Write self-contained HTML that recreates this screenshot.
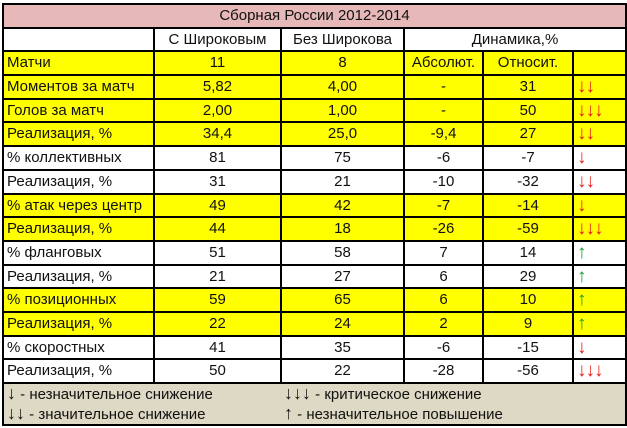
<!DOCTYPE html>
<html><head><meta charset="utf-8"><style>
body{margin:0;background:#fff;width:627px;height:428px;overflow:hidden;font-family:"Liberation Sans",sans-serif;}
table{position:absolute;left:2px;top:3px;border-collapse:collapse;table-layout:fixed;width:623px;font-size:15px;color:#111;}
td{border:2px solid #000;padding:0 3px;text-align:center;white-space:nowrap;overflow:hidden;line-height:18px;}
tr{height:24px;}
tr.s{height:23px;}
td.l{text-align:left;}
tr.y td{background:#ffff00;}
.t td{background:#e6b9b8;}
.r{color:#e8201a;text-align:left;font-size:19px;font-weight:bold;letter-spacing:-1px;}
.g{color:#10a030;text-align:left;font-size:19px;font-weight:bold;}
.leg{height:21px;}
.leg td{background:#ddd9c4;text-align:left;border:none;}
.a{font-size:18px;}
</style></head><body>
<table>
<colgroup><col style="width:151px"><col style="width:127px"><col style="width:123px"><col style="width:79px"><col style="width:90px"><col style="width:53px"></colgroup>
<tr class="t"><td colspan="6">Сборная России 2012-2014</td></tr>
<tr class="s"><td></td><td>С Широковым</td><td>Без Широкова</td><td colspan="3">Динамика,%</td></tr>
<tr class="y"><td class="l">Матчи</td><td>11</td><td>8</td><td>Абсолют.</td><td>Относит.</td><td></td></tr>
<tr class="y"><td class="l">Моментов за матч</td><td>5,82</td><td>4,00</td><td>-</td><td>31</td><td class="r">↓↓</td></tr>
<tr class="y s"><td class="l">Голов за матч</td><td>2,00</td><td>1,00</td><td>-</td><td>50</td><td class="r">↓↓↓</td></tr>
<tr class="y"><td class="l">Реализация, %</td><td>34,4</td><td>25,0</td><td>-9,4</td><td>27</td><td class="r">↓↓</td></tr>
<tr><td class="l">% коллективных</td><td>81</td><td>75</td><td>-6</td><td>-7</td><td class="r">↓</td></tr>
<tr><td class="l">Реализация, %</td><td>31</td><td>21</td><td>-10</td><td>-32</td><td class="r">↓↓</td></tr>
<tr class="y s"><td class="l">% атак через центр</td><td>49</td><td>42</td><td>-7</td><td>-14</td><td class="r">↓</td></tr>
<tr class="y"><td class="l">Реализация, %</td><td>44</td><td>18</td><td>-26</td><td>-59</td><td class="r">↓↓↓</td></tr>
<tr><td class="l">% фланговых</td><td>51</td><td>58</td><td>7</td><td>14</td><td class="g">↑</td></tr>
<tr class="s"><td class="l">Реализация, %</td><td>21</td><td>27</td><td>6</td><td>29</td><td class="g">↑</td></tr>
<tr class="y"><td class="l">% позиционных</td><td>59</td><td>65</td><td>6</td><td>10</td><td class="g">↑</td></tr>
<tr class="y"><td class="l">Реализация, %</td><td>22</td><td>24</td><td>2</td><td>9</td><td class="g">↑</td></tr>
<tr class="s"><td class="l">% скоростных</td><td>41</td><td>35</td><td>-6</td><td>-15</td><td class="r">↓</td></tr>
<tr><td class="l">Реализация, %</td><td>50</td><td>22</td><td>-28</td><td>-56</td><td class="r">↓↓↓</td></tr>
<tr class="leg"><td colspan="2" style="border-left:2px solid #000;border-top:2px solid #000"><span class="a">↓</span> - незначительное снижение</td><td colspan="4" style="border-right:2px solid #000;border-top:2px solid #000"><span class="a">↓↓↓</span> - критическое снижение</td></tr>
<tr class="leg"><td colspan="2" style="border-left:2px solid #000;border-bottom:2px solid #000"><span class="a">↓↓</span> - значительное снижение</td><td colspan="4" style="border-right:2px solid #000;border-bottom:2px solid #000"><span class="a">↑</span> - незначительное повышение</td></tr>
</table>
</body></html>
